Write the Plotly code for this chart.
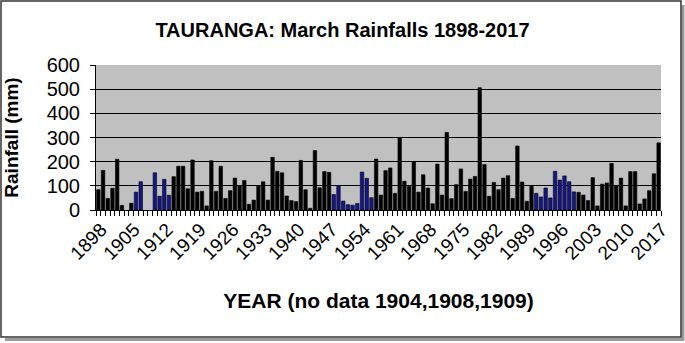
import plotly.graph_objects as go

years = list(range(1898, 2018))
rain = [
    84, 164, 48, 90, 210, 19, None, 28, 74, 117,          # 1898-1907
    None, None, 154, 57, 127, 61, 138, 181, 181, 88,      # 1908-1917
    207, 74, 77, 17, 204, 77, 181, 48, 80, 132,           # 1918-1927
    99, 122, 24, 41, 99, 117, 41, 218, 160, 154,          # 1928-1937
    58, 39, 35, 205, 84, 7, 246, 92, 159, 156,            # 1938-1947
    64, 101, 37, 22, 20, 27, 157, 131, 51, 211,           # 1948-1957
    62, 163, 174, 69, 299, 119, 98, 199, 74, 146,         # 1958-1967
    91, 26, 190, 62, 321, 47, 105, 170, 77, 128,          # 1968-1977
    139, 506, 188, 57, 114, 84, 132, 142, 48, 265,        # 1978-1987
    116, 36, 98, 69, 54, 91, 50, 160, 124, 141,           # 1988-1997
    117, 75, 73, 62, 39, 134, 17, 107, 112, 193,          # 1998-2007
    100, 132, 17, 159, 159, 25, 46, 80, 150, 278,         # 2008-2017
]
blue_years = [1906, 1907, 1910, 1911, 1912, 1913,
              1948, 1949, 1950, 1951, 1952, 1953, 1954, 1955, 1956,
              1991, 1992, 1993, 1994, 1995, 1996, 1997, 1998, 1999]
tick_years = list(range(1898, 2018, 7))

BLACK = "#000000"
BLUE = "#15158c"
colors = [BLUE if y in blue_years else BLACK for y in years]

W, H = 685, 343
ML, MR, MT, MB = 96, 24, 65, 133
PW, PH = W - ML - MR, H - MT - MB

def px(x):
    return (x - ML) / PW

def py(y):
    return (H - MB - y) / PH

FONT = "Liberation Sans, Arial, sans-serif"

fig = go.Figure(go.Bar(
    x=years, y=rain,
    marker=dict(color=colors, line=dict(color="#000000", width=0.6)),
))

fig.update_layout(
    width=W, height=H,
    margin=dict(l=ML, r=MR, t=MT, b=MB, autoexpand=False),
    paper_bgcolor="white",
    plot_bgcolor="#c0c0c0",
    bargap=0.26,
    showlegend=False,
    font=dict(family=FONT, color="black"),
    title=dict(
        text="<b>TAURANGA: March Rainfalls 1898-2017</b>",
        x=0.5, xref="container", xanchor="center",
        y=1 - 30 / H, yref="container", yanchor="middle",
        font=dict(size=20, family=FONT, color="black"),
    ),
    xaxis=dict(
        range=[1897.5, 2017.5],
        tickmode="array", tickvals=tick_years, ticktext=[str(t) for t in tick_years],
        tickangle=-45, ticks="", ticklen=0,
        tickfont=dict(size=19, family=FONT),
        ticklabelshift=3,
        showgrid=False, zeroline=False,
        showline=True, linecolor="black", linewidth=1,
        minor=dict(tickmode="linear", tick0=1897.5, dtick=1, ticks="outside",
                   ticklen=5, tickcolor="black", tickwidth=1, showgrid=False),
        title=dict(text="<b>YEAR (no data 1904,1908,1909)</b>",
                   font=dict(size=21, family=FONT), standoff=30),
    ),
    yaxis=dict(
        range=[0, 600], dtick=100, tick0=0,
        tickfont=dict(size=20, family=FONT),
        ticks="outside", ticklen=5, tickcolor="black",
        ticklabelstandoff=6,
        showgrid=True, gridcolor="#000000", gridwidth=1,
        zeroline=False,
        showline=True, linecolor="black", linewidth=1,
        title=dict(text="<b>Rainfall (mm)</b>",
                   font=dict(size=19, family=FONT), standoff=22),
    ),
    shapes=[
        dict(type="line", xref="paper", yref="paper",
             x0=px(683), x1=px(683), y0=py(5), y1=py(340),
             line=dict(color="#9a9a9a", width=3)),
        dict(type="line", xref="paper", yref="paper",
             x0=px(5), x1=px(684), y0=py(339.5), y1=py(339.5),
             line=dict(color="#9a9a9a", width=3)),
        dict(type="rect", xref="paper", yref="paper",
             x0=px(1), x1=px(681), y0=py(1), y1=py(337),
             line=dict(color="#333333", width=1.5)),
    ],
)

fig.write_html("out.html")
